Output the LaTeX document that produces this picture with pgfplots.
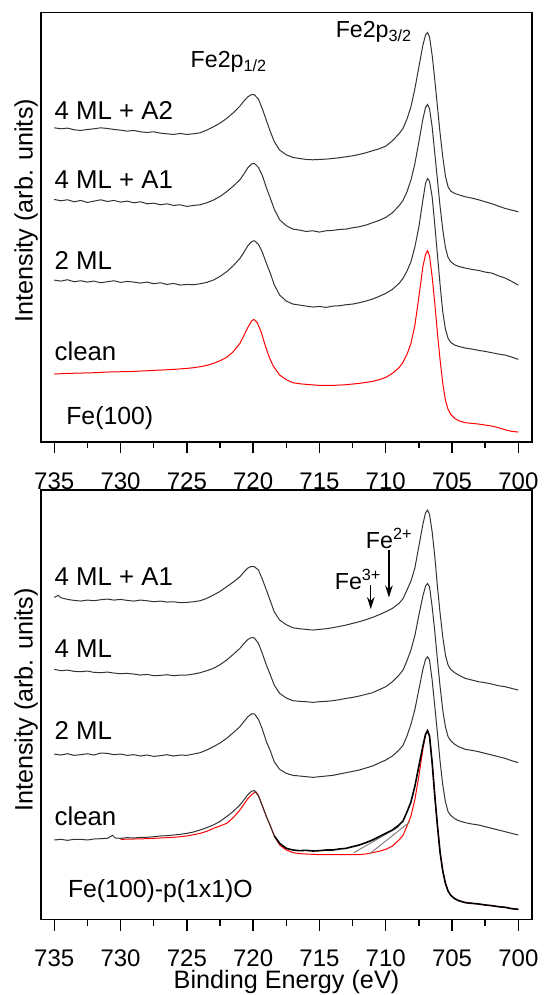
\documentclass[border=0pt]{standalone}
\usepackage{fontspec}
\setmainfont{Liberation Sans}
\usepackage{pgfplots}
\pgfplotsset{compat=1.18}
\usetikzlibrary{arrows.meta}
\definecolor{curve}{gray}{0.2}
\newcommand{\tkf}{\fontsize{12}{13}\selectfont}
\newcommand{\lbf}{\fontsize{12.6}{14}\selectfont}
\pgfplotsset{
  fexps/.style={
    scale only axis, width=245.5pt, height=214.6pt,
    x dir=reverse, xmin=698.97, xmax=736.0, ymin=0, ymax=1288,
    xtick={700,705,...,735}, minor x tick num=1,
    ytick=\empty, xtick pos=bottom, tick align=outside,
    major tick length=5.8pt, minor tick length=3.3pt,
    axis line style={line width=0.8pt}, every tick/.style={line width=0.7pt, black},
    /pgf/number format/assume math mode=true,
    xticklabel={\tkf\pgfmathprintnumber{\tick}},
    xticklabel style={anchor=base, yshift=-17.9pt, inner sep=0pt},
    clip=false,
  },
  blk/.style={curve, line width=0.5pt, mark=none},
}
\tikzset{lab/.style={anchor=west, inner sep=0pt, font=\fontsize{12.9}{14}\selectfont}}
\begin{document}
\begin{tikzpicture}
\useasboundingbox (0,0) rectangle (272pt,-497.5pt);
% ---------------- top panel ----------------
\begin{axis}[fexps, at={(20.5pt,-220.85pt)}, anchor=south west,
  ylabel={\lbf Intensity (arb. units)},
  every axis y label/.style={at={(axis description cs:-0.0305,0.538)}, rotate=90, anchor=center, inner sep=0pt}]
\addplot[red, line width=0.5pt] coordinates {
(735,203)(734,205)(733,206)(732,207)(731,209)(730,210)(729,211)(728,213)(727,215)(726,217)(725,220)(724.5,222)(724,225)(723.5,229)(723,235)(722.5,243)(722,253)(721.5,270)(721,295)(720.7,318)(720.4,343)(720.1,363)(719.95,367)(719.7,358)(719.4,330)(719.1,290)(718.8,255)(718.5,228)(718,200)(717.5,186)(717,177)(716.5,174)(716,172)(715,169)(714,169)(713,171)(712,175)(711,181)(710.5,186)(710,193)(709.5,205)(709,222)(708.7,238)(708.4,262)(708.1,295)(707.8,350)(707.5,435)(707.2,525)(707.0,562)(706.85,573)(706.7,558)(706.5,495)(706.3,415)(706.1,325)(705.9,245)(705.7,175)(705.5,125)(705.3,97)(705.1,82)(704.8,70)(704.5,63)(704,57)(703.5,55)(703,53)(702.5,50)(702,47)(701.5,42)(701,36)(700.5,31)(700,29)};
\addplot[blk] coordinates {
(735,485)(734.5,482)(734,486)(733.5,480)(733,483)(732.5,479)(732,482)(731.5,477)(731,480)(730.5,483)(730,478)(729.5,481)(729,479)(728.5,476)(728,479)(727.5,474)(727,477)(726.5,472)(726,475)(725.5,470)(725,472)(724.5,471)(724,474)(723.5,478)(723,485)(722.5,496)(722,510)(721.5,528)(721,550)(720.7,568)(720.4,588)(720.1,601)(719.9,603)(719.6,592)(719.3,568)(719,535)(718.7,505)(718.4,470)(718,440)(717.5,422)(717,413)(716.5,410)(716,407)(715.5,404)(715,406)(714.5,403)(714,407)(713.5,408)(713,411)(712.5,413)(712,417)(711.5,422)(711,428)(710.5,436)(710,445)(709.5,457)(709,475)(708.7,490)(708.4,512)(708.1,540)(707.8,585)(707.5,645)(707.2,725)(707.0,775)(706.85,790)(706.7,782)(706.5,735)(706.3,650)(706.1,560)(705.9,470)(705.7,390)(705.5,338)(705.3,310)(705.1,298)(704.8,290)(704.5,286)(704,281)(703.5,278)(703,274)(702.5,271)(702,267)(701.5,263)(701,260)(700.5,254)(700,247)};
\addplot[blk] coordinates {
(735,727)(734.5,723)(734,726)(733.5,720)(733,724)(732.5,718)(732,722)(731.5,726)(731,721)(730.5,724)(730,719)(729.5,722)(729,717)(728.5,720)(728,714)(727.5,716)(727,711)(726.5,714)(726,709)(725.5,711)(725,706)(724.5,709)(724,711)(723.5,717)(723,725)(722.5,736)(722,750)(721.5,767)(721,786)(720.7,803)(720.4,822)(720.1,834)(719.9,835)(719.6,823)(719.3,798)(719,762)(718.7,730)(718.4,697)(718,666)(717.5,648)(717,638)(716.5,635)(716,631)(715.5,633)(715,629)(714.5,633)(714,634)(713.5,637)(713,638)(712.5,642)(712,645)(711.5,650)(711,657)(710.5,664)(710,673)(709.5,687)(709,708)(708.7,724)(708.4,750)(708.1,785)(707.8,835)(707.5,900)(707.2,968)(707.0,1003)(706.85,1012)(706.7,1000)(706.5,945)(706.3,865)(706.1,785)(705.9,705)(705.7,637)(705.5,583)(705.3,553)(705.1,540)(704.8,531)(704.5,526)(704,521)(703.5,517)(703,514)(702.5,509)(702,506)(701.5,498)(701,491)(700.5,481)(700,470)};
\addplot[blk] coordinates {
(735,942)(734.5,939)(734,941)(733.5,936)(733,934)(732.5,937)(732,939)(731.5,942)(731,940)(730.5,937)(730,935)(729.5,932)(729,934)(728.5,930)(728,928)(727.5,930)(727,926)(726.5,924)(726,922)(725.5,925)(725,922)(724.5,924)(724,927)(723.5,935)(723,945)(722.5,956)(722,970)(721.5,987)(721,1007)(720.7,1022)(720.4,1035)(720.1,1042)(719.9,1041)(719.6,1028)(719.3,998)(719,964)(718.7,930)(718.4,900)(718,875)(717.5,861)(717,853)(716.5,850)(716,847)(715.5,846)(715,847)(714.5,848)(714,850)(713.5,852)(713,855)(712.5,858)(712,862)(711.5,867)(711,873)(710.5,879)(710,887)(709.5,903)(709,924)(708.7,940)(708.4,968)(708.1,1005)(707.8,1060)(707.5,1125)(707.2,1190)(707.0,1220)(706.85,1228)(706.7,1215)(706.5,1160)(706.3,1085)(706.1,1005)(705.9,925)(705.7,855)(705.5,797)(705.3,765)(705.1,752)(704.8,745)(704.5,741)(704,735)(703.5,731)(703,726)(702.5,720)(702,714)(701.5,707)(701,700)(700.5,695)(700,690)};
\node[lab] at (axis cs:735,995) {4 ML + A2};
\node[lab] at (axis cs:735,785) {4 ML + A1};
\node[lab] at (axis cs:735,545) {2 ML};
\node[lab] at (axis cs:735,270) {clean};
\node[lab, font=\fontsize{12.4}{14}\selectfont] at (axis cs:734.12,70) {Fe(100)};
\node[lab, font=\fontsize{11.6}{14}\selectfont] at (axis cs:724.74,1140) {Fe2p\textsubscript{1/2}};
\node[lab, font=\fontsize{11.6}{14}\selectfont] at (axis cs:713.8,1230) {Fe2p\textsubscript{3/2}};
\end{axis}
% ---------------- bottom panel ----------------
\begin{axis}[fexps, at={(20.5pt,-459.65pt)}, anchor=south west,
  ylabel={\lbf Intensity (arb. units)}, xlabel={\lbf Binding Energy (eV)},
  every axis y label/.style={at={(axis description cs:-0.0305,0.511)}, rotate=90, anchor=center, inner sep=0pt},
  every axis x label/.style={at={(axis description cs:0.5,0)}, anchor=base, yshift=-34.5pt, inner sep=0pt}]
\addplot[red, line width=0.5pt] coordinates {
(730,240)(729,241)(728,242)(727,244)(726,246)(725,250)(724,258)(723.5,264)(723,273)(722.5,280)(722,288)(721.5,305)(721,328)(720.7,345)(720.4,362)(720.1,375)(719.8,383)(719.6,372)(719.3,340)(719,308)(718.7,280)(718.4,250)(718,223)(717.5,208)(717,200)(716.5,197)(716,196)(715,194)(714,194)(713,194)(712,194)(711.5,196)(711,200)(710.5,204)(710,210)(709.5,220)(709,238)(708.7,252)(708.4,280)(708.1,310)(707.8,360)(707.5,430)(707.2,510)(707.0,555)(706.85,566)(706.7,550)(706.5,470)(706.3,370)(706.1,280)(705.9,200)(705.7,145)(705.5,108)(705.3,85)(705.1,72)(704.8,62)(704.5,56)(704,50)(703.5,48)(703,46)(702.5,43)(702,41)(701.5,38)(701,36)(700.5,32)(700,30)};
\addplot[gray, line width=0.5pt] coordinates {(712.4,200)(709.0,278)};
\addplot[gray, line width=0.5pt] coordinates {(711.2,197)(708.2,292)};
\addplot[blk] coordinates {
(735,238)(734.5,240)(734,237)(733.5,240)(733,240)(732.5,238)(732,241)(731.5,242)(731,243)(730.6,252)(730.4,244)(730,243)(729.5,245)(729,244)(728.5,246)(728,246)(727.5,248)(727,250)(726.5,251)(726,253)(725.5,255)(725,258)(724.5,262)(724,268)(723.5,275)(723,283)(722.5,294)(722,308)(721.5,324)(721,343)(720.7,358)(720.4,374)(720.1,385)(719.9,386)(719.6,370)(719.3,340)(719,308)(718.7,280)(718.4,250)};
\addplot[black, line width=0.8pt] coordinates {
(718.4,250)(718,228)(717.5,213)(717,208)(716.5,206)(716,207)(715.5,205)(715,206)(714.5,208)(714,208)(713.5,211)(713,213)(712.5,218)(712,223)(711.5,230)(711,238)(710.5,248)(710,258)(709.5,268)(709,283)(708.7,295)(708.4,322)(708.1,352)(707.8,400)(707.5,460)(707.2,520)(707.0,555)(706.85,566)(706.7,550)(706.5,470)(706.3,370)(706.1,280)(705.9,200)(705.7,145)(705.5,108)(705.3,85)(705.1,72)(704.8,62)(704.5,56)(704,50)(703.5,48)(703,46)(702.5,43)(702,41)(701.5,38)(701,36)(700.5,32)(700,30)};
\addplot[blk] coordinates {
(735,496)(734.5,493)(734,497)(733.5,492)(733,494)(732.5,497)(732,493)(731.5,499)(731,498)(730.5,494)(730,496)(729.5,492)(729,494)(728.5,490)(728,493)(727.5,489)(727,491)(726.5,494)(726,490)(725.5,493)(725,492)(724.5,496)(724,500)(723.5,508)(723,518)(722.5,529)(722,543)(721.5,560)(721,578)(720.7,593)(720.4,608)(720.1,617)(719.9,616)(719.6,600)(719.3,570)(719,533)(718.7,505)(718.4,472)(718,450)(717.5,438)(717,432)(716.5,430)(716,428)(715.5,426)(715,428)(714.5,430)(714,432)(713.5,436)(713,440)(712.5,444)(712,448)(711.5,454)(711,460)(710.5,469)(710,478)(709.5,490)(709,508)(708.7,522)(708.4,550)(708.1,585)(707.8,630)(707.5,690)(707.2,750)(707.0,780)(706.85,788)(706.7,778)(706.5,718)(706.3,638)(706.1,558)(705.9,473)(705.7,403)(705.5,353)(705.3,323)(705.1,312)(704.8,302)(704.5,296)(704,290)(703.5,286)(703,283)(702.5,278)(702,273)(701.5,268)(701,263)(700.5,258)(700,253)};
\addplot[blk] coordinates {
(735,750)(734.5,746)(734,748)(733.5,744)(733,743)(732.5,745)(732,741)(731.5,740)(731,742)(730.5,739)(730,737)(729.5,738)(729,736)(728.5,733)(728,735)(727.5,731)(727,732)(726.5,734)(726,731)(725.5,733)(725,733)(724.5,736)(724,740)(723.5,746)(723,753)(722.5,764)(722,778)(721.5,795)(721,813)(720.7,827)(720.4,840)(720.1,846)(719.9,844)(719.6,828)(719.3,797)(719,763)(718.7,733)(718.4,702)(718,678)(717.5,664)(717,656)(716.5,654)(716,653)(715.5,651)(715,653)(714.5,654)(714,656)(713.5,659)(713,663)(712.5,666)(712,670)(711.5,675)(711,680)(710.5,689)(710,698)(709.5,713)(709,733)(708.7,748)(708.4,776)(708.1,808)(707.8,852)(707.5,913)(707.2,970)(707.0,1000)(706.85,1008)(706.7,998)(706.5,938)(706.3,863)(706.1,778)(705.9,698)(705.7,628)(705.5,578)(705.3,548)(705.1,536)(704.8,525)(704.5,518)(704,510)(703.5,507)(703,503)(702.5,498)(702,493)(701.5,488)(701,483)(700.5,476)(700,470)};
\addplot[blk] coordinates {
(735,966)(734.7,972)(734.5,965)(734,960)(733.5,957)(733,955)(732.5,958)(732,956)(731.5,959)(731,961)(730.5,958)(730,960)(729.5,957)(729,955)(728.5,958)(728,956)(727.5,953)(727,955)(726.5,952)(726,953)(725.5,950)(725,951)(724.5,953)(724,956)(723.5,963)(723,973)(722.5,984)(722,998)(721.5,1012)(721,1028)(720.7,1042)(720.4,1054)(720.2,1058)(719.9,1058)(719.6,1048)(719.3,1020)(719,988)(718.7,955)(718.4,922)(718,898)(717.5,884)(717,875)(716.5,872)(716,870)(715.5,868)(715,870)(714.5,872)(714,875)(713.5,879)(713,883)(712.5,888)(712,893)(711.5,899)(711,906)(710.5,914)(710,923)(709.5,933)(709,948)(708.7,962)(708.4,988)(708.1,1015)(707.8,1055)(707.5,1120)(707.2,1185)(707.0,1220)(706.85,1228)(706.7,1215)(706.5,1163)(706.3,1088)(706.1,998)(705.9,918)(705.7,848)(705.5,793)(705.3,763)(705.1,750)(704.8,740)(704.5,733)(704,723)(703.5,718)(703,713)(702.5,710)(702,706)(701.5,701)(701,698)(700.5,693)(700,688)};
\node[lab] at (axis cs:735,1028) {4 ML + A1};
\node[lab] at (axis cs:735,813) {4 ML};
\node[lab] at (axis cs:735,566) {2 ML};
\node[lab] at (axis cs:735,308) {clean};
\node[lab, font=\fontsize{12.4}{14}\selectfont] at (axis cs:733.99,86) {Fe(100)-p(1x1)O};
\node[lab, font=\fontsize{11.6}{14}\selectfont] at (axis cs:711.52,1143) {Fe\textsuperscript{2+}};
\node[lab, font=\fontsize{11.6}{14}\selectfont] at (axis cs:713.87,1020) {Fe\textsuperscript{3+}};
\draw[line width=0.7pt, -{Stealth[length=6pt,width=3.8pt]}] (axis cs:709.76,1108) -- (axis cs:709.76,966);
\draw[line width=0.7pt, -{Stealth[length=6pt,width=3.8pt]}] (axis cs:711.13,1003) -- (axis cs:711.13,931);
\end{axis}
\end{tikzpicture}
\end{document}
